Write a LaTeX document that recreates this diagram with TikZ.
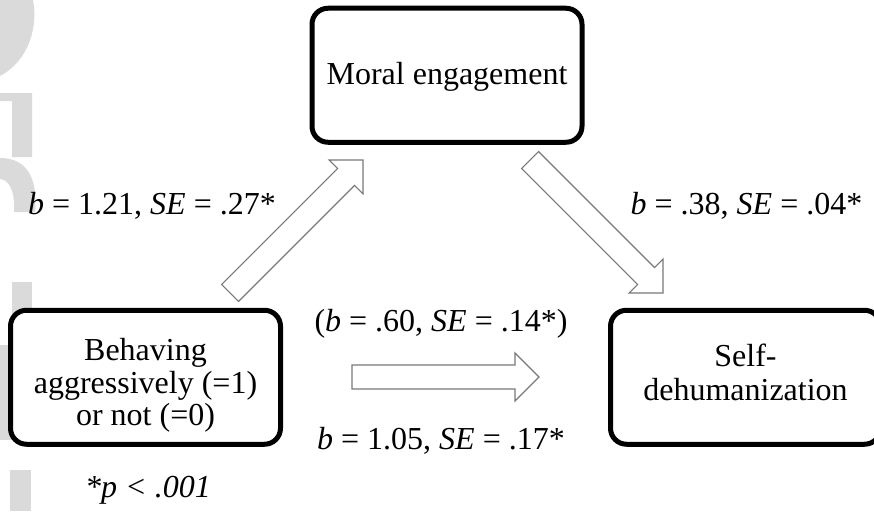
\documentclass[tikz,border=0pt]{standalone}
\usepackage{fontspec}
\setmainfont{Liberation Serif}
\definecolor{wmgrey}{RGB}{218,218,218}
\definecolor{arrowgrey}{RGB}{120,120,120}
\tikzset{
  box/.style={draw=black, line width=5pt, rounded corners=16pt, minimum width=270pt, minimum height=134pt, inner sep=0pt, fill=white},
  txt/.style={inner sep=0pt, anchor=base, font=\fontsize{32}{33.5}\selectfont},
  wm/.style={fill=wmgrey, draw=none},
  blk/.style={draw=arrowgrey, line width=1.1pt, fill=white, line join=miter},
  pics/barrow/.style={code={\draw[blk] (-#1,-12) -- (-24,-12) -- (-24,-24) -- (0,0) -- (-24,24) -- (-24,12) -- (-#1,12) -- cycle;}}
}
\begin{document}
\begin{tikzpicture}[x=1pt,y=-1pt]
\clip (0,0) rectangle (874,511);
\fill[white] (0,0) rectangle (874,511);
% watermark fragments
\fill[wm] (0,0) -- (33,0) .. controls (38,25) and (30,60) .. (0,76) -- cycle;
\fill[wm] (0,93) -- (32,93) -- (32,157) -- (12,157) -- (12,101) -- (0,101) -- cycle;
\fill[wm] (0,158) .. controls (28,158) and (38,180) .. (35,212) -- (14,212) .. controls (15,192) and (10,180) .. (0,179) -- cycle;
\fill[wm] (12,282) rectangle (32,332);
\fill[wm] (0,345) -- (32,345) -- (32,440) -- (0,440) -- cycle;
\fill[wm] (10,470) rectangle (31,511);
% boxes
\node[box] (moral) at (447,75.25) {};
\node[box] (beh) at (145.5,377.25) {};
\node[box] (self) at (745.5,377.25) {};
\node[txt] (moralt) at (447,84) {Moral engagement};
\node[txt] (beh1) at (145.5,360) {Behaving};
\node[txt] (beh2) at (145.5,393) {aggressively (=1)};
\node[txt] (beh3) at (145.5,425.5) {or not (=0)};
\node[txt] (self1) at (745.5,366) {Self-};
\node[txt] (self2) at (745.5,400) {dehumanization};
% block arrows
\pic[rotate=45] at (363,160) {barrow=188};
\pic[rotate=-45] at (663,293) {barrow=188};
\pic at (539,377) {barrow=187};
% labels
\node[txt] (la) at (152,214) {\textit{b} = 1.21, \textit{SE} = .27*};
\node[txt] (lb) at (746.5,214) {\textit{b} = .38, \textit{SE} = .04*};
\node[txt] (lc) at (441,331) {(\textit{b} = .60, \textit{SE} = .14*)};
\node[txt] (ld) at (441,449) {\textit{b} = 1.05, \textit{SE} = .17*};
\node[txt] (note) at (148,497) {\itshape *p < .001};
\end{tikzpicture}
\end{document}
